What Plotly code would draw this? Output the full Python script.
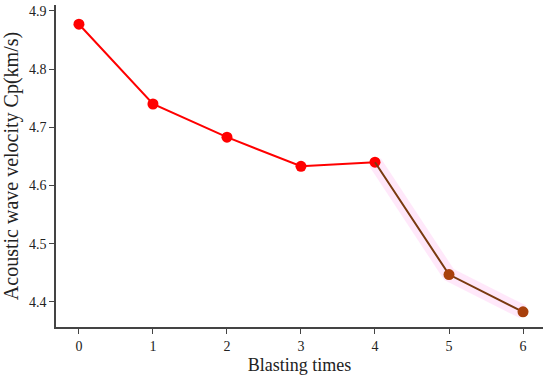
import plotly.graph_objects as go

blasting_times = [0, 1, 2, 3, 4, 5, 6]
velocity = [4.877, 4.740, 4.683, 4.633, 4.640, 4.447, 4.383]

split = 4
x_red, y_red = blasting_times[:split + 1], velocity[:split + 1]
x_brown, y_brown = blasting_times[split:], velocity[split:]

font_family = "Liberation Serif, Times New Roman, serif"

fig = go.Figure()
# pink halo under the later segment
fig.add_trace(go.Scatter(x=x_brown, y=y_brown, mode="lines",
                         line=dict(color="rgba(255,150,230,0.22)", width=14),
                         hoverinfo="skip", showlegend=False))
fig.add_trace(go.Scatter(x=x_red, y=y_red, mode="lines+markers",
                         line=dict(color="#ff0000", width=2),
                         marker=dict(color="#ff0000", size=11),
                         showlegend=False))
fig.add_trace(go.Scatter(x=x_brown, y=y_brown, mode="lines",
                         line=dict(color="#7a3a10", width=2),
                         showlegend=False))
fig.add_trace(go.Scatter(x=x_brown[1:], y=y_brown[1:], mode="markers",
                         marker=dict(color="#a8400c", size=11),
                         showlegend=False))

fig.update_layout(
    width=550, height=378,
    margin=dict(l=56, r=7, t=5, b=51, autoexpand=False),
    paper_bgcolor="white", plot_bgcolor="white",
    font=dict(family=font_family, color="#222", size=14),
)
fig.update_xaxes(range=[-0.31, 6.27], tickvals=blasting_times,
                 showline=True, linecolor="#444", linewidth=1.5,
                 ticks="outside", ticklen=5, tickcolor="#444",
                 showgrid=False, zeroline=False,
                 title=dict(text="Blasting times", font=dict(size=18), standoff=6))
fig.update_yaxes(range=[4.357, 4.91], tickvals=[4.4, 4.5, 4.6, 4.7, 4.8, 4.9],
                 tickformat=".1f",
                 showline=True, linecolor="#444", linewidth=1.5,
                 ticks="outside", ticklen=5, tickcolor="#444",
                 showgrid=False, zeroline=False,
                 title=dict(text="Acoustic wave velocity Cp(km/s)", font=dict(size=20), standoff=5))

fig.write_html("out.html", post_script="document.body.style.margin='0';",
               config={"displayModeBar": False})
